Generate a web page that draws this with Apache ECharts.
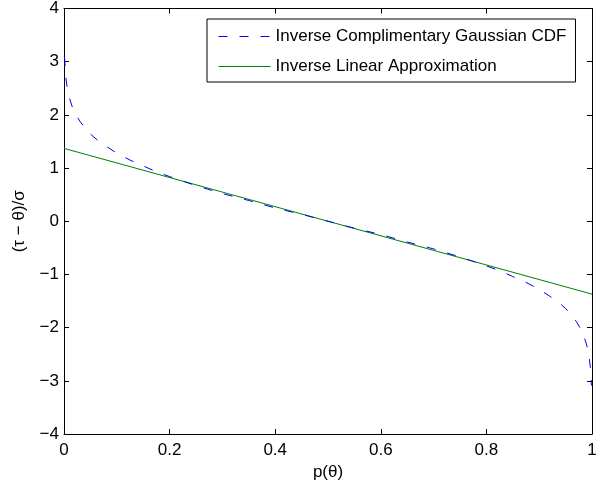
<!DOCTYPE html>
<html>
<head>
<meta charset="utf-8">
<script src="https://cdn.jsdelivr.net/npm/echarts@6/dist/echarts.min.js"></script>
<style>
  html, body { margin: 0; padding: 0; background: #fff; }
  #chart { width: 605px; height: 486px; }
</style>
</head>
<body>
<div id="chart"></div>
<script>
// x 轴：p(θ)
var pValues = [0.001, 0.003, 0.006, 0.01, 0.015, 0.02, 0.03, 0.04, 0.05, 0.065, 0.08, 0.1,
  0.125, 0.15, 0.175, 0.2, 0.25, 0.3, 0.35, 0.4, 0.45, 0.5, 0.55, 0.6, 0.65, 0.7, 0.75,
  0.8, 0.825, 0.85, 0.875, 0.9, 0.92, 0.935, 0.95, 0.96, 0.97, 0.98, 0.985, 0.99, 0.994,
  0.997, 0.999]
// 虚线：Inverse Complimentary Gaussian CDF
var gaussValues = [3.09, 2.75, 2.51, 2.33, 2.17, 2.05, 1.88, 1.75, 1.64, 1.51, 1.41, 1.28,
  1.15, 1.04, 0.93, 0.84, 0.67, 0.52, 0.39, 0.25, 0.13, 0, -0.13, -0.25, -0.39, -0.52, -0.67,
  -0.84, -0.93, -1.04, -1.15, -1.28, -1.41, -1.51, -1.64, -1.75, -1.88, -2.05, -2.17, -2.33, -2.51,
  -2.75, -3.09]
// 实线：Inverse Linear Approximation
var linearP = [0, 1]
var linearValues = [1.37, -1.37]

var legendNames = ['Inverse Complimentary Gaussian CDF', 'Inverse Linear Approximation']

var font = 'Liberation Sans, Arial, Helvetica, sans-serif'
var dash = [9, 12]

function pairs(xs, ys) {
  return xs.map(function (x, i) { return [x, ys[i]] })
}

// MATLAB 风格的负号
function minus(v) {
  return String(v).replace('-', '\u2212')
}

var myChart = echarts.init(document.getElementById('chart'))

var axisCommon = {
  axisLine: { show: true, onZero: false, lineStyle: { color: '#000', width: 1 } },
  axisTick: { show: true, inside: true, length: 5, lineStyle: { color: '#000' } },
  splitLine: { show: false }
}

var option = {
  animation: false,
  backgroundColor: '#fff',
  textStyle: { fontFamily: font },
  grid: { left: 64, right: 13, top: 4, bottom: 52, containLabel: false },
  legend: {
    data: [
      { name: legendNames[0], lineStyle: { width: 1, type: dash } },
      { name: legendNames[1], lineStyle: { width: 1 } }
    ],
    orient: 'vertical',
    left: 207,
    top: 19,
    padding: [9, 9, 7, 11],
    itemGap: 13,
    itemWidth: 52,
    itemHeight: 14,
    borderColor: '#000',
    borderWidth: 1,
    backgroundColor: '#fff',
    itemStyle: { opacity: 0 },
    textStyle: { fontFamily: font, fontSize: 17, color: '#000' }
  },
  xAxis: [
    Object.assign({
      type: 'value',
      min: 0,
      max: 1,
      interval: 0.2,
      name: 'p(θ)',
      nameLocation: 'middle',
      nameGap: 25,
      nameTextStyle: { fontFamily: font, fontSize: 17, color: '#000' },
      axisLabel: {
        fontFamily: font, fontSize: 17, color: '#000', margin: 8,
        formatter: function (v) { return minus(v) }
      }
    }, axisCommon),
    Object.assign({
      type: 'value', position: 'top', min: 0, max: 1, interval: 0.2,
      axisLabel: { show: false }
    }, axisCommon)
  ],
  yAxis: [
    Object.assign({
      type: 'value',
      min: -4,
      max: 4,
      interval: 1,
      name: '(τ \u2212 θ)/σ',
      nameLocation: 'middle',
      nameGap: 36,
      nameRotate: 90,
      nameTextStyle: { fontFamily: font, fontSize: 17, color: '#000' },
      axisLabel: {
        fontFamily: font, fontSize: 17, color: '#000', margin: 5,
        formatter: function (v) { return minus(v) }
      }
    }, axisCommon),
    Object.assign({
      type: 'value', position: 'right', min: -4, max: 4, interval: 1,
      axisLabel: { show: false }
    }, axisCommon)
  ],
  series: [
    {
      name: legendNames[0],
      type: 'line',
      data: pairs(pValues, gaussValues),
      showSymbol: false,
      symbol: 'none',
      color: '#0000ff',
      lineStyle: { color: '#0000ff', width: 1, type: dash },
      z: 3
    },
    {
      name: legendNames[1],
      type: 'line',
      data: pairs(linearP, linearValues),
      showSymbol: false,
      symbol: 'none',
      color: '#008000',
      lineStyle: { color: '#008000', width: 1 },
      z: 2
    }
  ]
}

myChart.setOption(option)
</script>
</body>
</html>
